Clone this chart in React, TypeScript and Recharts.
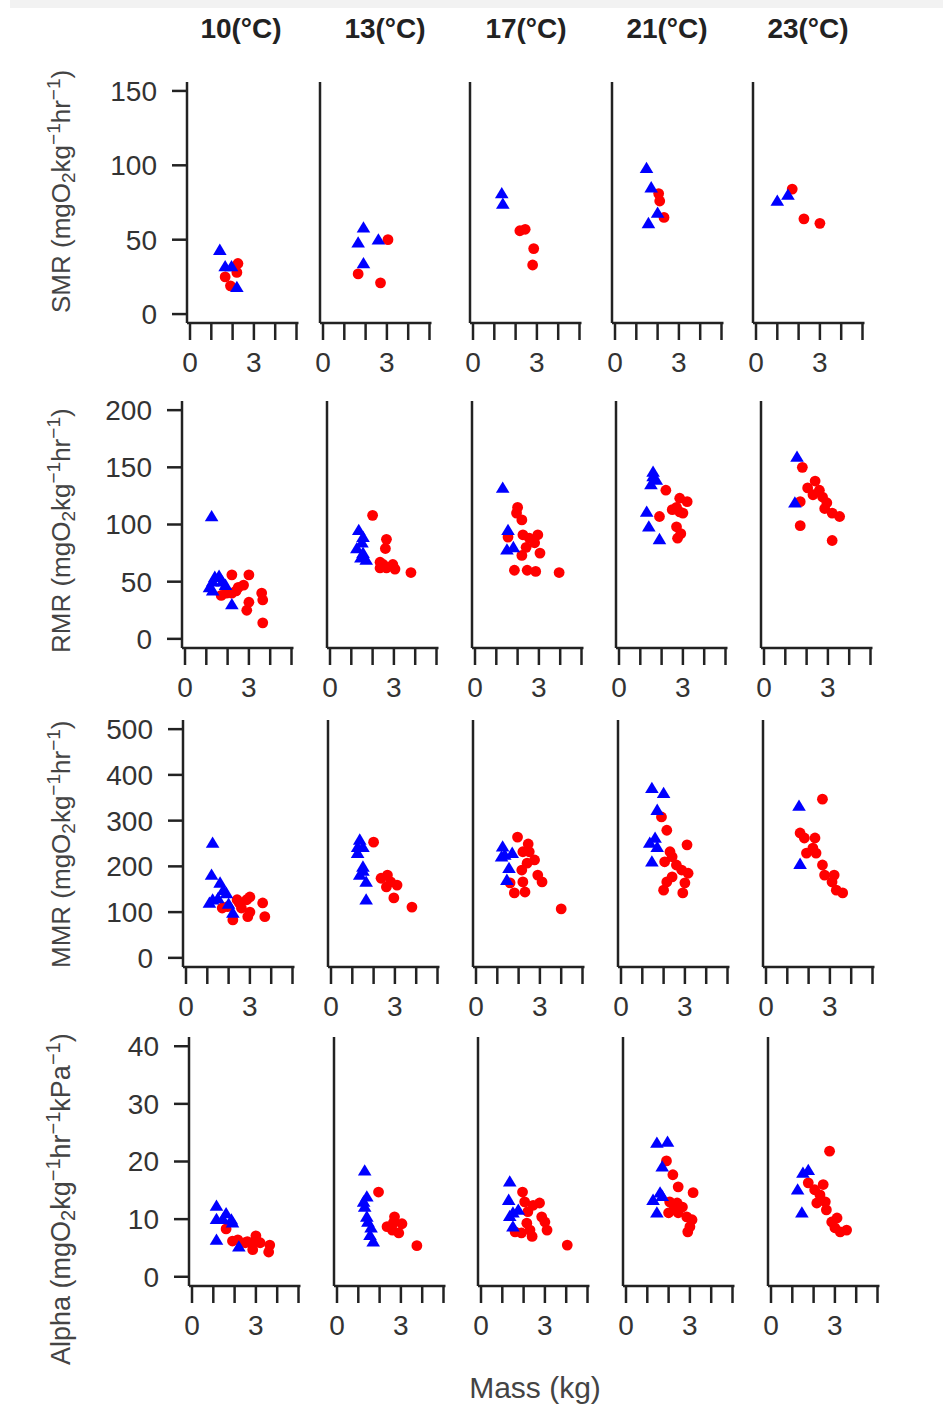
import React from "react";
import { ScatterChart, Scatter, XAxis, YAxis } from "recharts";

type P = [number, number];
type Seg = { t: string; k?: "sub" | "sup" };

// ---------- text / ticks ----------
const temperatures = ["10(°C)", "13(°C)", "17(°C)", "21(°C)", "23(°C)"];
const massTicks = [0, 1, 2, 3, 4, 5];
const massTickLabels = ["0", "", "", "3", "", ""];
const smrTicks = [0, 50, 100, 150];
const rmrTicks = [0, 50, 100, 150, 200];
const mmrTicks = [0, 100, 200, 300, 400, 500];
const alphaTicks = [0, 10, 20, 30, 40];
const xLabel = "Mass (kg)";
const smrLabel: Seg[] = [{ t: "SMR (mgO" }, { t: "2", k: "sub" }, { t: "kg" }, { t: "−1", k: "sup" }, { t: "hr" }, { t: "−1", k: "sup" }, { t: ")" }];
const rmrLabel: Seg[] = [{ t: "RMR (mgO" }, { t: "2", k: "sub" }, { t: "kg" }, { t: "−1", k: "sup" }, { t: "hr" }, { t: "−1", k: "sup" }, { t: ")" }];
const mmrLabel: Seg[] = [{ t: "MMR (mgO" }, { t: "2", k: "sub" }, { t: "kg" }, { t: "−1", k: "sup" }, { t: "hr" }, { t: "−1", k: "sup" }, { t: ")" }];
const alphaLabel: Seg[] = [{ t: "Alpha (mgO" }, { t: "2", k: "sub" }, { t: "kg" }, { t: "−1", k: "sup" }, { t: "hr" }, { t: "−1", k: "sup" }, { t: "kPa" }, { t: "−1", k: "sup" }, { t: ")" }];

// ---------- SMR ----------
const smr10Tri: P[] = [[1.4, 43], [1.65, 32], [1.95, 32], [2.2, 18]];
const smr10Dot: P[] = [[2.25, 34], [2.2, 28], [1.65, 25], [1.9, 19]];
const smr13Tri: P[] = [[1.9, 58], [1.65, 48], [1.9, 34], [2.6, 50]];
const smr13Dot: P[] = [[3.05, 50], [1.65, 27], [2.7, 21]];
const smr17Tri: P[] = [[1.35, 81], [1.4, 74]];
const smr17Dot: P[] = [[2.2, 56], [2.45, 57], [2.85, 44], [2.8, 33]];
const smr21Tri: P[] = [[1.48, 98], [1.7, 85], [2.0, 68], [1.57, 61]];
const smr21Dot: P[] = [[2.05, 81], [2.1, 76], [2.3, 65]];
const smr23Tri: P[] = [[1.0, 76], [1.5, 80]];
const smr23Dot: P[] = [[1.7, 84], [2.25, 64], [3.0, 61]];

// ---------- RMR ----------
const rmr10Tri: P[] = [[1.25, 107], [1.15, 45], [1.3, 50], [1.4, 54], [1.6, 55], [1.75, 50], [1.3, 42], [1.9, 47], [2.2, 30]];
const rmr10Dot: P[] = [[2.2, 56], [3.0, 56], [2.75, 47], [2.5, 45], [1.95, 40], [2.2, 40], [1.7, 38], [3.0, 32], [2.9, 25], [3.6, 40], [3.65, 34], [3.65, 14], [2.4, 42]];
const rmr13Tri: P[] = [[1.35, 95], [1.55, 89], [1.5, 84], [1.26, 79], [1.55, 75], [1.45, 71], [1.7, 69]];
const rmr13Dot: P[] = [[2.0, 108], [2.65, 87], [2.6, 79], [2.35, 67], [2.35, 62], [2.65, 62], [2.95, 65], [3.05, 61], [3.8, 58], [2.5, 65]];
const rmr17Tri: P[] = [[1.3, 132], [1.55, 95], [1.5, 78], [1.8, 80]];
const rmr17Dot: P[] = [[2.0, 115], [1.95, 110], [2.2, 104], [1.55, 89], [2.25, 91], [2.55, 88], [2.95, 91], [2.8, 84], [2.4, 80], [3.05, 75], [2.2, 73], [1.85, 60], [2.45, 60], [2.85, 59], [3.95, 58]];
const rmr21Tri: P[] = [[1.6, 146], [1.6, 142], [1.5, 135], [1.75, 139], [1.3, 111], [1.4, 98], [1.9, 87]];
const rmr21Dot: P[] = [[2.2, 130], [2.85, 123], [3.2, 120], [2.7, 115], [2.5, 113], [2.85, 111], [3.0, 110], [1.9, 107], [2.7, 98], [2.9, 92], [2.75, 88]];
const rmr23Tri: P[] = [[1.55, 159], [1.45, 119]];
const rmr23Dot: P[] = [[1.8, 150], [2.4, 138], [2.05, 132], [2.6, 130], [2.3, 126], [2.75, 124], [2.95, 119], [1.7, 120], [2.85, 114], [3.2, 110], [3.55, 107], [1.7, 99], [3.2, 86]];

// ---------- MMR ----------
const mmr10Tri: P[] = [[1.25, 251], [1.2, 181], [1.6, 164], [1.75, 148], [1.9, 141], [1.25, 127], [1.5, 130], [1.1, 120], [2.2, 98], [2.0, 118]];
const mmr10Dot: P[] = [[1.7, 109], [1.95, 112], [2.2, 83], [2.5, 120], [2.85, 127], [3.0, 133], [2.6, 109], [2.9, 90], [3.6, 120], [3.7, 90], [3.0, 100], [2.4, 127]];
const mmr13Tri: P[] = [[1.35, 258], [1.25, 242], [1.5, 242], [1.25, 229], [1.5, 199], [1.35, 181], [1.65, 166], [1.65, 127], [1.5, 190]];
const mmr13Dot: P[] = [[2.0, 253], [2.65, 181], [2.35, 174], [2.8, 166], [2.6, 155], [3.1, 159], [2.95, 131], [3.8, 111]];
const mmr17Tri: P[] = [[1.25, 243], [1.35, 225], [1.7, 229], [1.55, 196], [1.45, 170], [1.2, 221]];
const mmr17Dot: P[] = [[1.95, 264], [2.45, 249], [2.5, 232], [2.2, 232], [2.75, 214], [2.4, 207], [2.15, 192], [2.9, 181], [3.1, 166], [2.2, 166], [1.6, 164], [1.8, 142], [2.3, 144], [4.0, 107]];
const mmr21Tri: P[] = [[1.45, 371], [2.0, 360], [1.7, 323], [1.6, 262], [1.35, 251], [1.7, 242], [1.45, 210]];
const mmr21Dot: P[] = [[1.9, 308], [2.15, 279], [3.1, 247], [2.3, 232], [2.05, 210], [2.6, 203], [2.85, 192], [3.15, 185], [2.4, 177], [2.15, 166], [3.0, 164], [2.0, 148], [2.9, 142], [2.4, 221]];
const mmr23Tri: P[] = [[1.55, 332], [1.6, 205]];
const mmr23Dot: P[] = [[2.65, 347], [1.6, 273], [1.8, 262], [2.3, 262], [2.2, 240], [1.9, 229], [2.35, 229], [2.65, 203], [2.75, 181], [3.2, 181], [3.1, 166], [3.3, 148], [3.6, 142]];

// ---------- Alpha ----------
const alpha10Tri: P[] = [[1.15, 12.3], [1.15, 10.0], [1.45, 10], [1.6, 11], [1.85, 9.9], [1.9, 9.4], [1.15, 6.4], [2.2, 5.2]];
const alpha10Dot: P[] = [[1.6, 8.3], [1.9, 6.2], [2.15, 6.4], [2.6, 6.1], [3.0, 7.1], [2.85, 5.9], [2.85, 4.7], [3.2, 5.9], [3.65, 5.5], [3.6, 4.3], [2.5, 5.9]];
const alpha13Tri: P[] = [[1.3, 18.4], [1.4, 13.9], [1.25, 13.0], [1.3, 12.1], [1.4, 10.4], [1.45, 9.5], [1.6, 8.5], [1.7, 6.1], [1.55, 7.2]];
const alpha13Dot: P[] = [[1.95, 14.7], [2.7, 10.4], [2.35, 8.7], [2.65, 9.4], [3.05, 9.2], [2.9, 7.6], [2.6, 8.1], [3.75, 5.4]];
const alpha17Tri: P[] = [[1.35, 16.5], [1.3, 13.3], [1.5, 11.1], [1.75, 11.6], [1.5, 8.7], [1.35, 10.5]];
const alpha17Dot: P[] = [[1.95, 14.7], [2.05, 13.0], [2.75, 12.8], [2.45, 12.4], [2.2, 11.3], [2.85, 10.4], [3.0, 9.5], [2.15, 9.3], [3.1, 8.1], [2.3, 8.1], [1.9, 7.6], [2.4, 7.0], [4.05, 5.5], [1.6, 7.8]];
const alpha21Tri: P[] = [[1.45, 23.2], [1.95, 23.4], [1.7, 19.1], [1.6, 14.6], [1.27, 13.3], [1.45, 11.1], [1.7, 14]];
const alpha21Dot: P[] = [[1.9, 20.1], [2.2, 17.7], [2.45, 15.6], [3.15, 14.6], [2.05, 13.0], [2.4, 12.8], [2.65, 12.1], [2.0, 11.1], [2.45, 11.1], [2.85, 10.4], [3.1, 9.9], [3.0, 8.7], [2.9, 7.8], [2.25, 11.7]];
const alpha23Tri: P[] = [[1.75, 18.5], [1.5, 18.0], [1.25, 15.1], [1.45, 11.1]];
const alpha23Dot: P[] = [[2.75, 21.8], [1.75, 16.3], [2.45, 16.0], [2.05, 15.1], [2.3, 14.2], [2.15, 12.8], [2.55, 13.0], [2.6, 11.6], [3.1, 10.2], [2.85, 9.5], [3.0, 8.5], [3.55, 8.1], [3.25, 7.8]];

// ---------- tables built from the arrays ----------
const triTable: P[][][] = [
  [smr10Tri, smr13Tri, smr17Tri, smr21Tri, smr23Tri],
  [rmr10Tri, rmr13Tri, rmr17Tri, rmr21Tri, rmr23Tri],
  [mmr10Tri, mmr13Tri, mmr17Tri, mmr21Tri, mmr23Tri],
  [alpha10Tri, alpha13Tri, alpha17Tri, alpha21Tri, alpha23Tri],
];
const dotTable: P[][][] = [
  [smr10Dot, smr13Dot, smr17Dot, smr21Dot, smr23Dot],
  [rmr10Dot, rmr13Dot, rmr17Dot, rmr21Dot, rmr23Dot],
  [mmr10Dot, mmr13Dot, mmr17Dot, mmr21Dot, mmr23Dot],
  [alpha10Dot, alpha13Dot, alpha17Dot, alpha21Dot, alpha23Dot],
];
const yTickTable = [smrTicks, rmrTicks, mmrTicks, alphaTicks];
const yLabelTable = [smrLabel, rmrLabel, mmrLabel, alphaLabel];

// ---------- layout (pixels) ----------
const FONT = '"Liberation Sans", Arial, Helvetica, sans-serif';
const AXIS = "#222";
const X_MIN = -0.141;
const X_MAX = 5.094;
const PLOT_W = 111.5;
const ROWS = [
  { top: 82, bottom: 323, domain: [-6, 156], tick0: [190, 323, 473, 615, 756], labelBottom: 313, lf: 26, sf: 19 },
  { top: 401, bottom: 648, domain: [-8, 208], tick0: [185, 330, 475, 619, 764], labelBottom: 653, lf: 26, sf: 19 },
  { top: 720, bottom: 967, domain: [-20, 520], tick0: [186, 331, 476, 621, 766], labelBottom: 968, lf: 26, sf: 19 },
  { top: 1037, bottom: 1286, domain: [-1.6, 41.6], tick0: [192, 337, 481, 626, 771], labelBottom: 1365, lf: 27, sf: 20 },
];
const TITLE_X = [241, 385, 526, 667, 808];

const RedDot = (props: any) => {
  const { cx, cy } = props;
  if (cx == null || cy == null) return null;
  return <circle cx={cx} cy={cy} r={5.4} fill="#ff0000" />;
};
const BlueTri = (props: any) => {
  const { cx, cy } = props;
  if (cx == null || cy == null) return null;
  return (
    <polygon
      points={`${cx},${cy - 6.5} ${cx - 6.8},${cy + 4.8} ${cx + 6.8},${cy + 4.8}`}
      fill="#0000ff"
    />
  );
};

function Panel(props: {
  tick0: number;
  top: number;
  bottom: number;
  domain: number[];
  yTicks: number[];
  showY: boolean;
  tri: P[];
  dot: P[];
}) {
  const { tick0, top, bottom, domain, yTicks, showY, tri, dot } = props;
  const axisX = tick0 - 3;
  const yW = showY ? 120 : 10;
  const mTop = 12;
  const mRight = 12;
  const xH = 70;
  const plotH = bottom - top;
  const width = yW + PLOT_W + mRight;
  const height = mTop + plotH + xH;
  const triData = tri.map(([x, y]) => ({ x, y }));
  const dotData = dot.map(([x, y]) => ({ x, y }));
  const tickStyle = { fill: "#333", fontSize: 28, fontFamily: FONT };
  return (
    <div style={{ position: "absolute", left: axisX - yW, top: top - mTop }}>
      <ScatterChart width={width} height={height} margin={{ top: mTop, right: mRight, bottom: 0, left: 0 }}>
        <XAxis
          type="number"
          dataKey="x"
          domain={[X_MIN, X_MAX]}
          ticks={massTicks}
          interval={0}
          allowDataOverflow
          height={xH}
          tickSize={17}
          tickMargin={12}
          tickFormatter={(v: number) => massTickLabels[massTicks.indexOf(v)] ?? ""}
          axisLine={{ stroke: AXIS, strokeWidth: 2.5 }}
          tickLine={{ stroke: AXIS, strokeWidth: 2.5 }}
          tick={tickStyle}
        />
        <YAxis
          type="number"
          dataKey="y"
          domain={domain as [number, number]}
          ticks={yTicks}
          interval={0}
          allowDataOverflow
          width={yW}
          tickSize={showY ? 15 : 0}
          tickMargin={15}
          axisLine={{ stroke: AXIS, strokeWidth: 2.5 }}
          tickLine={showY ? { stroke: AXIS, strokeWidth: 2.5 } : false}
          tick={showY ? tickStyle : false}
        />
        <Scatter data={dotData} shape={RedDot} isAnimationActive={false} />
        <Scatter data={triData} shape={BlueTri} isAnimationActive={false} />
      </ScatterChart>
    </div>
  );
}

function renderSegs(segs: Seg[], lf: number, sf: number) {
  let off = 0;
  return segs.map((s, i) => {
    const target = s.k === "sup" ? -10 : s.k === "sub" ? 5 : 0;
    const dy = target - off;
    off = target;
    return (
      <tspan key={i} dy={dy} fontSize={s.k ? sf : lf}>
        {s.t}
      </tspan>
    );
  });
}

export default function App() {
  return (
    <div style={{ position: "absolute", left: 0, top: 0, width: 943, height: 1407, background: "#fff", overflow: "hidden" }}>
      {ROWS.map((row, r) =>
        row.tick0.map((t0, c) => (
          <Panel
            key={`${r}-${c}`}
            tick0={t0}
            top={row.top}
            bottom={row.bottom}
            domain={row.domain}
            yTicks={yTickTable[r]}
            showY={c === 0}
            tri={triTable[r][c]}
            dot={dotTable[r][c]}
          />
        ))
      )}
      <svg width={943} height={1407} style={{ position: "absolute", left: 0, top: 0, pointerEvents: "none" }}>
        <rect x={10} y={0} width={933} height={8} fill="#f2f2f2" />
        {temperatures.map((t, i) => (
          <text key={t} x={TITLE_X[i]} y={38} textAnchor="middle" fontFamily={FONT} fontWeight="bold" fontSize={28} fill="#222">
            {t}
          </text>
        ))}
        {ROWS.map((row, r) => (
          <text
            key={r}
            transform={`translate(70, ${row.labelBottom}) rotate(-90)`}
            textAnchor="start"
            fontFamily={FONT}
            fontSize={row.lf}
            fill="#444"
          >
            {renderSegs(yLabelTable[r], row.lf, row.sf)}
          </text>
        ))}
        <text x={535} y={1398} textAnchor="middle" fontFamily={FONT} fontSize={30} fill="#444">
          {xLabel}
        </text>
      </svg>
    </div>
  );
}
